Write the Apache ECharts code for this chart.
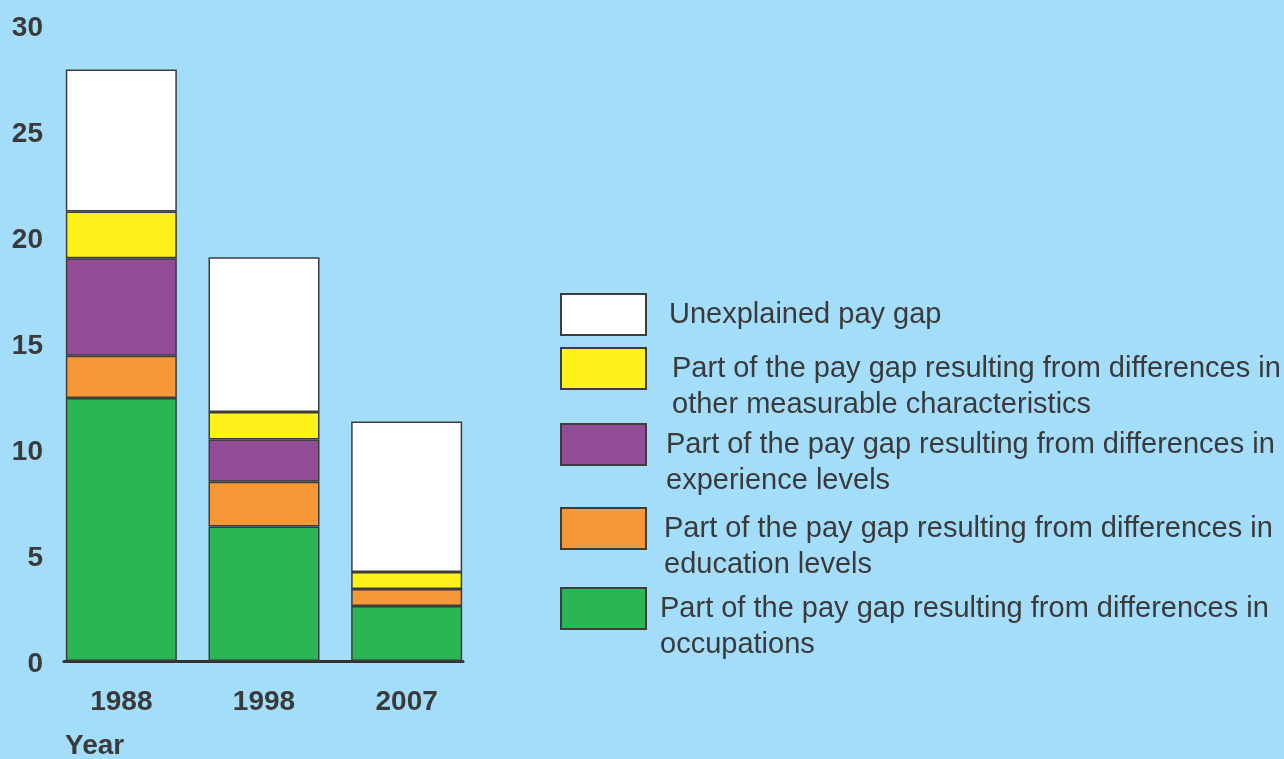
<!DOCTYPE html>
<html>
<head>
<meta charset="utf-8">
<script src="https://cdn.jsdelivr.net/npm/echarts@6/dist/echarts.min.js"></script>
<style>
    html, body { margin: 0; padding: 0; background: #a4ddf9; }
    #chart { width: 1284px; height: 759px; }
</style>
</head>
<body>
<div id="chart"></div>
<script>
// categories
const years = ["1988", "1998", "2007"]
// stacked parts, bottom to top
const occupations = [12.4, 6.35, 2.6]
const education = [2.0, 2.1, 0.8]
const experience = [4.6, 2.0, 0]
const otherChar = [2.2, 1.3, 0.8]
const unexplained = [6.7, 7.3, 7.1]
const yTicks = [0, 5, 10, 15, 20, 25, 30]

const names = ["occupations", "education", "experience", "other", "unexplained"]
const legendText = [
    "Part of the pay gap resulting from differences in\noccupations",
    "Part of the pay gap resulting from differences in\neducation levels",
    "Part of the pay gap resulting from differences in\nexperience levels",
    "Part of the pay gap resulting from differences in\nother measurable characteristics",
    "Unexplained pay gap",
]
const colors = ["#2bb655", "#f79838", "#934c96", "#fff21a", "#ffffff"]
const values = [occupations, education, experience, otherChar, unexplained]

const textColor = "#3a3a3a"
const font = "'Liberation Sans', Arial, sans-serif"

// legend placement: box top and text gap for each item
const legendBoxTop = [588, 508, 424, 348, 293]
const legendGap = [14, 18, 20, 26, 23]

const legends = names.map((n, i) => {
    const twoLines = legendText[i].indexOf("\n") >= 0
    return {
        left: 560,
        top: twoLines ? legendBoxTop[i] - 33.5 : legendBoxTop[i],
        padding: 0,
        selectedMode: false,
        itemWidth: 85,
        itemHeight: 41,
        icon: "rect",
        data: [n],
        // leading empty line keeps the first text line level with the box
        formatter: () => (twoLines ? "\n" : "") + legendText[i],
        textStyle: {
            fontFamily: font,
            fontSize: 29,
            color: textColor,
            lineHeight: 36,
            padding: [0, 0, 0, legendGap[i] - 5],
        },
    }
})

const chart = echarts.init(document.getElementById("chart"))
chart.setOption({
    backgroundColor: "#a4ddf9",
    animation: false,
    title: {
        text: "Year",
        left: 65,
        top: 732,
        padding: 0,
        textStyle: {
            fontFamily: font,
            fontSize: 28,
            fontWeight: "bold",
            color: textColor,
        },
    },
    legend: legends,
    grid: [
        // bars
        { left: 50, width: 428, top: 25, bottom: 98, outerBoundsMode: "none" },
        // baseline only
        { left: 64, width: 399, top: 25, bottom: 98, outerBoundsMode: "none" },
    ],
    xAxis: [
        {
            type: "category",
            gridIndex: 0,
            data: years,
            axisTick: { show: false },
            axisLine: { show: false },
            axisLabel: {
                margin: 27,
                fontFamily: font,
                fontSize: 28,
                fontWeight: "bold",
                color: textColor,
            },
        },
        {
            type: "value",
            gridIndex: 1,
            min: 0,
            max: 1,
            splitLine: { show: false },
            axisTick: { show: false },
            axisLabel: { show: false },
            axisLine: {
                show: true,
                lineStyle: { color: "#333333", width: 3 },
            },
        },
    ],
    yAxis: [
        {
            type: "value",
            gridIndex: 0,
            min: 0,
            max: 30,
            interval: 5,
            splitLine: { show: false },
            axisTick: { show: false },
            axisLine: { show: false },
            axisLabel: {
                customValues: yTicks,
                margin: 7,
                verticalAlign: "top",
                lineHeight: 6,
                fontFamily: font,
                fontSize: 28,
                fontWeight: "bold",
                color: textColor,
            },
        },
        {
            type: "value",
            gridIndex: 1,
            min: 0,
            max: 30,
            show: false,
        },
    ],
    series: names.map((n, i) => ({
        name: n,
        type: "bar",
        stack: "gap",
        barWidth: 111,
        itemStyle: {
            color: colors[i],
            borderColor: "#3d3d3d",
            borderWidth: 1.5,
        },
        data: values[i],
    })),
})
</script>
</body>
</html>
